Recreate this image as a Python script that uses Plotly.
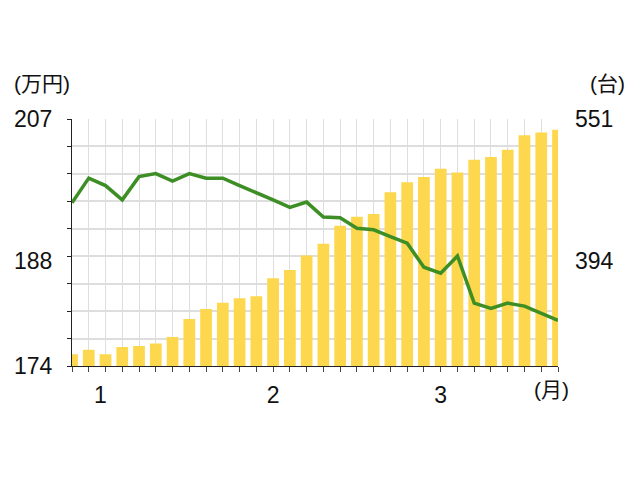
import plotly.graph_objects as go

# --- data ---
periods = list(range(30))
units = [291, 296, 291, 299, 300, 303, 310, 330, 341, 348, 353, 355, 375, 384, 400,
         413, 433, 443, 446, 470, 481, 487, 496, 492, 506, 509, 517, 533, 536, 539]
price = [195.8, 199.1, 198.1, 196.2, 199.3, 199.7, 198.7, 199.7, 199.1, 199.1,
         198.1, 197.2, 196.2, 195.2, 195.9, 193.9, 193.8, 192.4, 192.2, 191.3,
         190.4, 187.2, 186.4, 188.7, 182.4, 181.7, 182.4, 182.0, 181.0, 180.1]
month_pos = [1.7, 12, 22]
month_labels = ["1", "2", "3"]
left_range = [174, 207]
left_labels = [174, 188, 207]
right_range = [278, 551]
right_labels = [394, 551]
n_div = 9

left_div = [left_range[0] + k * (left_range[1] - left_range[0]) / n_div for k in range(n_div + 1)]
right_div = [right_range[0] + k * (right_range[1] - right_range[0]) / n_div for k in range(n_div + 1)]

FONT = "Liberation Sans, Arial, Noto Sans CJK JP, sans-serif"
AX = "#222222"
GRID = "#dedede"

fig = go.Figure()
fig.add_trace(go.Bar(x=periods, y=units, marker=dict(color="#FDD84E", line=dict(width=0)),
                     width=0.7, yaxis="y", showlegend=False))
fig.add_trace(go.Scatter(x=periods, y=price, mode="lines",
                         line=dict(color="#3D8E25", width=3.5), yaxis="y2", showlegend=False))

fig.update_layout(
    width=624, height=464,
    margin=dict(l=64, r=74, t=111, b=106, autoexpand=False),
    paper_bgcolor="white", plot_bgcolor="white",
    font=dict(family=FONT, size=21, color="#111111"),
    bargap=0.3,
    xaxis=dict(range=[0, 29], tickmode="array", tickvals=month_pos, ticktext=month_labels,
               ticks="", showgrid=False, zeroline=False, automargin=False,
               showline=True, linecolor=AX, linewidth=1.2,
               tickfont=dict(size=23), ticklabelstandoff=8,
               minor=dict(tickmode="array", tickvals=periods, ticks="outside", ticklen=5,
                          tickcolor="#444444", tickwidth=1, showgrid=True,
                          gridcolor=GRID, gridwidth=1.3)),
    yaxis=dict(range=right_range, side="right", tickmode="array", tickvals=right_labels,
               ticktext=[str(v) for v in right_labels], ticks="", showgrid=False,
               zeroline=False, showline=False, tickfont=dict(size=23), automargin=False,
               ticklabelstandoff=16,
               minor=dict(tickmode="array", tickvals=right_div, ticks="", showgrid=True,
                          gridcolor=GRID, gridwidth=1.5)),
    yaxis2=dict(range=left_range, side="left", overlaying="y", tickmode="array",
                tickvals=left_labels, ticktext=[str(v) for v in left_labels], ticks="",
                showgrid=False, zeroline=False, showline=True, linecolor=AX, linewidth=1.2,
                tickfont=dict(size=23), ticklabelstandoff=14, automargin=False,
                minor=dict(tickmode="array", tickvals=left_div, ticks="outside", ticklen=4,
                           tickcolor=AX, tickwidth=1, showgrid=False)),
    annotations=[
        dict(text="(万円)", xref="paper", yref="paper", x=-0.062, y=1, yshift=36,
             xanchor="center", yanchor="middle", showarrow=False, font=dict(size=21)),
        dict(text="(台)", xref="paper", yref="paper", x=1.101, y=1, yshift=36,
             xanchor="center", yanchor="middle", showarrow=False, font=dict(size=21)),
        dict(text="(月)", xref="x", yref="paper", x=28.6, y=0, yshift=-23,
             xanchor="center", yanchor="middle", showarrow=False, font=dict(size=21)),
    ],
)

fig.write_html("out.html")
